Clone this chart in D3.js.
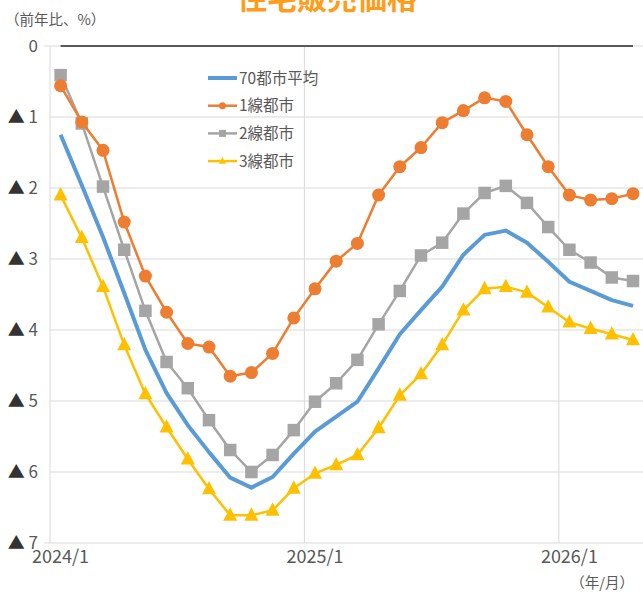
<!DOCTYPE html>
<html>
<head>
<meta charset="utf-8">
<script src="https://cdn.jsdelivr.net/npm/d3@7"></script>
<style>
  body { margin: 0; background: #fff; }
  svg { display: block; font-family: "Noto Sans CJK JP", "Noto Sans", sans-serif; }
</style>
</head>
<body>
<div id="chart"></div>
<script>
const width = 643;
const height = 592;

// months 2024/1 .. 2026/4
const months = [];
for (let yr = 2024; yr <= 2026; yr++) {
    for (let m = 1; m <= 12; m++) {
        if (yr === 2026 && m > 4) break;
        months.push(yr + "/" + m);
    }
}
const tickMonths = ["2024/1", "2025/1", "2026/1"];
const yTicks = [0, 1, 2, 3, 4, 5, 6, 7];

// declines shown as positive (▲ = minus)
const avg70 = [1.25, 1.96, 2.69, 3.48, 4.28, 4.89, 5.34, 5.72, 6.08, 6.22, 6.07, 5.74, 5.43, 5.22, 5.01, 4.54, 4.06, 3.72, 3.39, 2.94, 2.66, 2.6, 2.77, 3.04, 3.32, 3.45, 3.58, 3.66];
const tier1 = [0.56, 1.07, 1.47, 2.48, 3.24, 3.75, 4.19, 4.24, 4.65, 4.6, 4.33, 3.83, 3.42, 3.03, 2.78, 2.1, 1.7, 1.43, 1.08, 0.91, 0.73, 0.78, 1.25, 1.7, 2.1, 2.17, 2.15, 2.08];
const tier2 = [0.41, 1.09, 1.98, 2.87, 3.73, 4.45, 4.82, 5.27, 5.69, 6.0, 5.76, 5.41, 5.01, 4.75, 4.42, 3.92, 3.45, 2.95, 2.77, 2.36, 2.07, 1.97, 2.21, 2.55, 2.87, 3.05, 3.26, 3.31];
const tier3 = [2.1, 2.7, 3.39, 4.21, 4.9, 5.37, 5.82, 6.24, 6.61, 6.61, 6.54, 6.23, 6.02, 5.9, 5.76, 5.38, 4.92, 4.62, 4.21, 3.72, 3.42, 3.39, 3.47, 3.68, 3.89, 3.98, 4.06, 4.14];

const series = [
    {name: "70都市平均", values: avg70, color: "#5B9BD5", width: 4, marker: null},
    {name: "1線都市", values: tier1, color: "#ED7D31", width: 2.5, marker: "circle"},
    {name: "2線都市", values: tier2, color: "#A5A5A5", width: 2.5, marker: "square"},
    {name: "3線都市", values: tier3, color: "#FFC000", width: 2.5, marker: "triangle"}
];

const svg = d3.select("#chart").append("svg")
    .attr("width", width)
    .attr("height", height);

const x = d3.scaleBand().domain(months).range([50, 50 + months.length * 21.2]);
const y = d3.scaleLinear().domain([0, 7]).range([46, 543]);
const cx = d => x(d) + x.bandwidth() / 2;

// title (cut off at top)
svg.append("text")
    .attr("x", 327).attr("y", 9)
    .attr("text-anchor", "middle")
    .attr("font-size", 30).attr("font-weight", 700)
    .attr("fill", "#FF9C1A")
    .text("住宅販売価格");

svg.append("text")
    .attr("x", 5).attr("y", 25)
    .attr("font-size", 14.5).attr("fill", "#595959")
    .text("（前年比、%）");

// grid
const grid = svg.append("g").attr("stroke", "#d9d9d9").attr("stroke-width", 1);
grid.selectAll("line.h")
    .data(yTicks.slice(1, -1))
    .join("line")
    .attr("x1", 50).attr("x2", width)
    .attr("y1", d => y(d)).attr("y2", d => y(d));
grid.selectAll("line.v")
    .data(tickMonths.slice(1))
    .join("line")
    .attr("x1", d => x(d)).attr("x2", d => x(d))
    .attr("y1", y(0)).attr("y2", y(7));
grid.append("line").attr("x1", 50).attr("x2", 50).attr("y1", y(0)).attr("y2", y(7));
grid.append("line").attr("x1", 44).attr("x2", width).attr("y1", y(7)).attr("y2", y(7));
grid.append("line").attr("x1", 44).attr("x2", 50).attr("y1", y(0)).attr("y2", y(0));
grid.append("line").attr("x1", 50).attr("x2", width).attr("y1", y(0)).attr("y2", y(0));

// zero line
svg.append("line")
    .attr("x1", cx(months[0])).attr("x2", cx(months[months.length - 1]))
    .attr("y1", y(0)).attr("y2", y(0))
    .attr("stroke", "#595959").attr("stroke-width", 2);

// y labels
const yl = svg.append("g").attr("font-size", 17);
yTicks.forEach(t => {
    const txt = yl.append("text")
        .attr("x", 38).attr("y", y(t))
        .attr("dy", "0.36em")
        .attr("text-anchor", "end");
    if (t > 0) txt.append("tspan").attr("fill", "#333").text("▲ ");
    txt.append("tspan").attr("fill", "#595959").text(t);
});

// x labels
svg.append("g").selectAll("text")
    .data(tickMonths)
    .join("text")
    .attr("x", d => cx(d)).attr("y", 563)
    .attr("text-anchor", "middle")
    .attr("font-size", 18).attr("fill", "#595959")
    .text(d => d);

svg.append("text")
    .attr("x", 634).attr("y", 588)
    .attr("text-anchor", "end")
    .attr("font-size", 14.5).attr("fill", "#595959")
    .text("（年/月）");

function drawMarker(g, type, color, px, py, s) {
    if (type === "circle") {
        g.append("circle").attr("cx", px).attr("cy", py).attr("r", s / 2).attr("fill", color);
    } else if (type === "square") {
        g.append("rect").attr("x", px - s / 2).attr("y", py - s / 2).attr("width", s).attr("height", s).attr("fill", color);
    } else if (type === "triangle") {
        const h = s * 0.95;
        g.append("path")
            .attr("d", `M${px},${py - h * 0.6}L${px + s / 2},${py + h * 0.4}L${px - s / 2},${py + h * 0.4}Z`)
            .attr("fill", color);
    }
}

const line = d3.line().x((d, i) => cx(months[i])).y(d => y(d));

const order = [3, 2, 1, 0];
order.forEach(k => {
    const s = series[k];
    const g = svg.append("g");
    g.append("path")
        .attr("d", line(s.values))
        .attr("fill", "none")
        .attr("stroke", s.color)
        .attr("stroke-width", s.width)
        .attr("stroke-linejoin", "round");
    if (s.marker) {
        const size = s.marker === "circle" ? 13 : (s.marker === "square" ? 12.5 : 14);
        s.values.forEach((v, i) => drawMarker(g, s.marker, s.color, cx(months[i]), y(v), size));
    }
});

// legend
const lg = svg.append("g");
series.forEach((s, i) => {
    const ly = 78 + i * 27.7;
    lg.append("line")
        .attr("x1", 208).attr("x2", 237)
        .attr("y1", ly).attr("y2", ly)
        .attr("stroke", s.color).attr("stroke-width", s.width);
    if (s.marker) drawMarker(lg, s.marker, s.color, 222.5, ly, 7);
    lg.append("text")
        .attr("x", 239).attr("y", ly)
        .attr("dy", "0.36em")
        .attr("font-size", 15.5).attr("fill", "#595959")
        .text(s.name);
});
</script>
</body>
</html>
